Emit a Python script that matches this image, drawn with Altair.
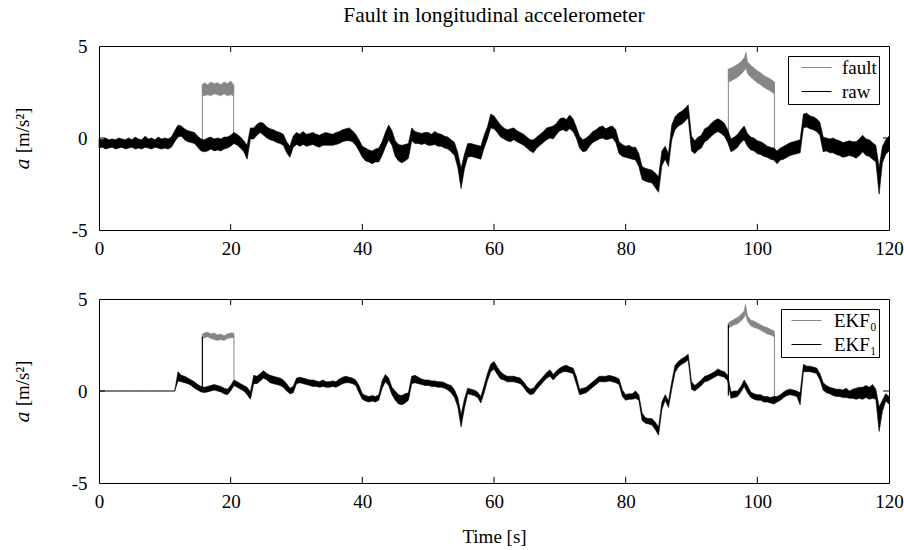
import altair as alt
import numpy as np
import pandas as pd

FONT = "Liberation Serif"
TITLE_FONT = "'Liberation Serif', 'DejaVu Serif', serif"
GRAY = "#868686"

# logged signals are shown on a 0.5 s grid (0 ... 120 s)
t = np.arange(241) * 0.5

# raw longitudinal acceleration: upper / lower edge of the noisy trace [m/s^2]
raw_hi = [
    -0.05, -0.1, 0.0, -0.1, -0.05, -0.1, 0.0, -0.05, -0.1, 0.0,
    -0.1, 0.05, -0.05, -0.1, 0.1, -0.05, 0.0, -0.1, 0.05, -0.05,
    0.0, -0.05, 0.05, 0.4, 0.7, 0.65, 0.5, 0.4, 0.35, 0.3,
    0.1, -0.05, -0.1, 0.0, 0.05, -0.05, 0.0, -0.05, 0.05, 0.05,
    0.15, 0.3, 0.2, 0.05, -0.15, -0.4, 0.55, 0.55, 0.75, 0.85,
    0.8, 0.6, 0.5, 0.45, 0.35, 0.3, 0.2, -0.2, -0.45, 0.1,
    0.3, 0.2, 0.35, 0.2, 0.25, 0.3, 0.2, 0.15, 0.25, 0.3,
    0.25, 0.2, 0.3, 0.35, 0.45, 0.5, 0.55, 0.4, 0.2, -0.1,
    -0.45, -0.55, -0.65, -0.7, -0.6, -0.55, -0.2, 0.3, 0.7, 0.4,
    -0.15, -0.35, -0.4, -0.35, -0.3, 0.55, 0.35, 0.3, 0.25, 0.3,
    0.3, 0.2, 0.35, 0.25, 0.2, 0.1, 0.05, -0.1, -0.25, -0.8,
    -1.65, -0.9, -0.3, -0.3, -0.35, -0.4, -0.45, 0.15, 0.6, 1.3,
    1.2, 0.95, 0.7, 0.55, 0.45, 0.5, 0.55, 0.4, 0.3, 0.2,
    0.05, -0.1, -0.1, 0.05, 0.2, 0.35, 0.55, 0.6, 0.65, 0.8,
    1.05, 1.1, 1.0, 1.25, 1.05, 0.6, 0.1, -0.1, 0.0, 0.15,
    0.35, 0.45, 0.6, 0.65, 0.5, 0.6, 0.65, 0.45, -0.2, -0.35,
    -0.45, -0.4, -0.5, -0.5, -0.85, -1.55, -1.65, -1.7, -1.75, -1.9,
    -2.1, -0.7, -0.45, -0.85, 0.7, 1.15, 1.35, 1.45, 1.6, 1.8,
    0.1, -0.15, 0.05, 0.15, 0.5, 0.6, 0.8, 0.95, 1.05, 0.95,
    0.8, 0.45, -0.05, 0.05, 0.2, 0.45, 0.65, 0.25, 0.05, 0.0,
    -0.15, -0.2, -0.3, -0.45, -0.5, -0.55, -0.7, -0.55, -0.45, -0.35,
    -0.25, -0.2, -0.15, -0.1, 1.3, 1.35, 1.2, 1.15, 1.05, 0.85,
    0.05, 0.0, -0.05, 0.0, -0.1, -0.15, -0.25, -0.2, -0.15, -0.2,
    -0.2, -0.05, 0.15, -0.05, -0.1, -0.25, -0.4, -1.6, -0.45, -0.1,
    0.1,
]
raw_lo = [
    -0.55, -0.5, -0.6, -0.55, -0.5, -0.6, -0.55, -0.5, -0.6, -0.55,
    -0.5, -0.6, -0.55, -0.6, -0.5, -0.55, -0.6, -0.5, -0.55, -0.6,
    -0.55, -0.6, -0.5, -0.2, 0.05, 0.1, -0.1, -0.2, -0.25, -0.3,
    -0.5, -0.7, -0.75, -0.7, -0.6, -0.7, -0.65, -0.7, -0.6, -0.55,
    -0.45, -0.3, -0.4, -0.55, -0.75, -1.15, -0.05, -0.05, 0.15, 0.3,
    0.15, 0.0, -0.1, -0.15, -0.25, -0.3, -0.4, -0.8, -1.05, -0.5,
    -0.35, -0.45, -0.35, -0.45, -0.4, -0.35, -0.45, -0.5, -0.4, -0.4,
    -0.4, -0.4, -0.35, -0.3, -0.2, -0.15, -0.15, -0.2, -0.4, -0.7,
    -1.05, -1.25, -1.3, -1.4, -1.3, -1.3, -0.95, -0.5, -0.1, -0.4,
    -1.0, -1.25, -1.35, -1.25, -1.1, -0.15, -0.3, -0.3, -0.35, -0.3,
    -0.4, -0.4, -0.35, -0.45, -0.45, -0.55, -0.6, -0.75, -0.95, -1.6,
    -2.75, -1.7, -1.05, -1.0, -1.05, -1.1, -1.15, -0.55, -0.05, 0.55,
    0.5, 0.3, 0.05, -0.05, -0.15, -0.2, -0.1, -0.2, -0.3, -0.4,
    -0.55, -0.7, -0.8, -0.55, -0.4, -0.25, -0.1, 0.0, -0.05, 0.2,
    0.4, 0.45, 0.35, 0.5, 0.35, 0.0, -0.55, -0.75, -0.7, -0.45,
    -0.25, -0.15, -0.05, 0.0, -0.1, -0.05, 0.0, -0.25, -0.85, -1.0,
    -1.05, -1.1, -1.15, -1.2, -1.55, -2.25, -2.35, -2.4, -2.45, -2.7,
    -2.95, -1.5, -1.15, -1.55, -0.1, 0.45, 0.65, 0.75, 0.9, 1.1,
    -0.7, -0.85, -0.65, -0.55, -0.2, -0.1, 0.1, 0.25, 0.35, 0.25,
    0.1, -0.25, -0.75, -0.65, -0.5, -0.25, -0.1, -0.45, -0.65, -0.7,
    -0.85, -0.9, -1.0, -1.05, -1.15, -1.2, -1.4, -1.2, -1.15, -1.05,
    -0.95, -0.9, -0.85, -0.8, 0.55, 0.6, 0.5, 0.45, 0.35, 0.15,
    -0.75, -0.7, -0.8, -0.8, -0.9, -0.95, -1.05, -1.0, -0.95, -1.0,
    -1.1, -0.95, -0.75, -0.95, -1.0, -1.15, -1.3, -3.05, -1.35, -0.9,
    -0.7,
]

# faulty sensor: offset windows (upper / lower edge of the trace)
fault_t1 = [15.7, 16, 16.5, 17, 17.5, 18, 18.5, 19, 19.5, 20, 20.45]
fault_hi1 = [2.9, 3.0, 2.9, 3.05, 2.95, 3.0, 2.9, 3.05, 2.95, 3.1, 2.9]
fault_lo1 = [2.3, 2.3, 2.35, 2.3, 2.4, 2.35, 2.3, 2.4, 2.3, 2.35, 2.3]
fault_t2 = [95.6, 96, 96.5, 97, 97.5, 98, 98.3, 98.5, 99, 99.5, 100, 100.5, 101, 101.5, 102, 102.6]
fault_hi2 = [3.75, 3.8, 3.9, 4.0, 4.15, 4.35, 4.65, 4.15, 3.95, 3.8, 3.65, 3.55, 3.4, 3.3, 3.2, 3.05]
fault_lo2 = [3.05, 3.1, 3.2, 3.3, 3.45, 3.65, 3.8, 3.5, 3.3, 3.15, 3.0, 2.9, 2.75, 2.65, 2.55, 2.4]
# switching edges of the faulty signal
fault_edge_t = [15.7, 20.45, 95.6, 102.6]
fault_edge_lo = [-0.45, -0.05, 0.2, -1.0]
fault_edge_hi = [2.9, 2.9, 3.75, 3.05]

# EKF_1 estimate: upper / lower edge of the trace
ekf1_hi = [
    0.0, 0.0, 0.0, 0.0, 0.0, 0.0, 0.0, 0.0, 0.0, 0.0,
    0.0, 0.0, 0.0, 0.0, 0.0, 0.0, 0.0, 0.0, 0.0, 0.0,
    0.0, 0.0, 0.0, 0.0, 1.05, 0.85, 0.8, 0.7, 0.6, 0.5,
    0.35, 0.25, 0.2, 0.25, 0.3, 0.35, 0.3, 0.25, 0.15, 0.1,
    0.3, 0.6, 0.5, 0.4, 0.3, 0.2, -0.05, 0.85, 0.8, 0.95,
    1.1, 0.95, 0.85, 0.8, 0.75, 0.7, 0.6, 0.4, 0.15, 0.25,
    0.7, 0.75, 0.7, 0.65, 0.6, 0.6, 0.55, 0.5, 0.6, 0.5,
    0.5, 0.55, 0.5, 0.65, 0.75, 0.8, 0.75, 0.7, 0.6, 0.3,
    -0.15, -0.25, -0.3, -0.25, -0.3, -0.2, 0.55, 0.9, 0.7, 0.2,
    0.0, -0.2, -0.25, -0.15, -0.1, 0.8, 0.85, 0.75, 0.65, 0.6,
    0.6, 0.55, 0.55, 0.5, 0.5, 0.45, 0.35, 0.3, 0.05, -0.35,
    -1.3, -0.45, 0.15, 0.1, 0.05, -0.05, -0.3, 0.3, 0.95, 1.45,
    1.6, 1.3, 1.05, 0.9, 0.8, 0.8, 0.8, 0.75, 0.7, 0.5,
    0.25, 0.1, 0.15, 0.4, 0.6, 0.8, 1.0, 1.15, 0.9, 1.1,
    1.25, 1.35, 1.4, 1.3, 1.25, 0.8, 0.1, 0.15, 0.2, 0.35,
    0.5, 0.65, 0.8, 0.8, 0.8, 0.85, 0.8, 0.75, 0.65, 0.05,
    -0.2, -0.15, -0.15, 0.0, -0.2, -1.2, -1.45, -1.5, -1.5, -1.7,
    -1.95, -0.6, -0.2, -0.55, 0.5, 1.4, 1.6, 1.75, 1.85, 2.0,
    0.5, 0.3, 0.45, 0.6, 0.8, 0.85, 0.95, 1.05, 1.2, 1.1,
    1.05, 0.85, -0.05, 0.0, 0.0, 0.25, 0.6, 0.3, -0.05, -0.15,
    -0.2, -0.2, -0.3, -0.3, -0.35, -0.3, -0.3, -0.2, -0.05, 0.05,
    0.1, 0.05, 0.0, -0.1, 1.45, 1.35, 1.35, 1.3, 1.25, 0.95,
    0.45, 0.3, 0.2, 0.15, 0.1, 0.1, 0.05, 0.15, 0.0, 0.1,
    0.15, 0.2, 0.2, 0.3, 0.2, 0.35, 0.1, -0.85, -0.5, -0.15,
    -0.3,
]
ekf1_lo = [
    0.0, 0.0, 0.0, 0.0, 0.0, 0.0, 0.0, 0.0, 0.0, 0.0,
    0.0, 0.0, 0.0, 0.0, 0.0, 0.0, 0.0, 0.0, 0.0, 0.0,
    0.0, 0.0, 0.0, 0.0, 0.55, 0.5, 0.45, 0.4, 0.3, 0.15,
    0.05, -0.05, -0.08, -0.05, 0.0, 0.05, 0.0, -0.05, -0.15, -0.2,
    0.0, 0.3, 0.2, 0.1, 0.0, -0.2, -0.45, 0.4, 0.4, 0.55,
    0.7, 0.6, 0.45, 0.4, 0.35, 0.3, 0.2, 0.0, -0.15, -0.1,
    0.4, 0.45, 0.4, 0.35, 0.3, 0.25, 0.25, 0.2, 0.25, 0.2,
    0.2, 0.25, 0.2, 0.3, 0.4, 0.45, 0.45, 0.4, 0.3, -0.1,
    -0.45, -0.55, -0.6, -0.55, -0.6, -0.5, 0.15, 0.5, 0.3, -0.2,
    -0.5, -0.7, -0.75, -0.65, -0.5, 0.4, 0.45, 0.4, 0.35, 0.3,
    0.3, 0.25, 0.25, 0.2, 0.2, 0.15, 0.05, -0.1, -0.35, -0.85,
    -1.95, -0.95, -0.15, -0.2, -0.25, -0.35, -0.65, -0.1, 0.55, 1.05,
    1.2, 0.9, 0.65, 0.6, 0.5, 0.5, 0.5, 0.45, 0.4, 0.2,
    -0.05, -0.2, -0.15, 0.1, 0.3, 0.5, 0.7, 0.8, 0.6, 0.8,
    0.95, 1.05, 1.05, 1.0, 0.95, 0.4, -0.2, -0.15, -0.1, 0.05,
    0.2, 0.35, 0.5, 0.5, 0.5, 0.55, 0.5, 0.45, 0.35, -0.3,
    -0.5, -0.45, -0.45, -0.4, -0.5, -1.6, -1.75, -1.8, -1.85, -2.1,
    -2.4, -1.0, -0.5, -0.9, 0.1, 1.0, 1.3, 1.45, 1.55, 1.7,
    0.1, 0.0, 0.15, 0.3, 0.5, 0.55, 0.65, 0.75, 0.85, 0.8,
    0.75, 0.55, -0.4, -0.35, -0.3, -0.05, 0.25, -0.1, -0.35, -0.45,
    -0.5, -0.5, -0.6, -0.6, -0.65, -0.7, -0.6, -0.5, -0.35, -0.25,
    -0.2, -0.25, -0.3, -0.75, 1.05, 1.05, 1.05, 1.0, 0.95, 0.6,
    0.05, -0.1, -0.15, -0.25, -0.3, -0.3, -0.35, -0.35, -0.4, -0.4,
    -0.45, -0.4, -0.45, -0.35, -0.45, -0.4, -0.45, -2.2, -1.1, -0.55,
    -0.7,
]
# one-sample transients of EKF_1 when the fault switches on
ekf1_spike_t = [15.7, 95.6]
ekf1_spike_lo = [0.05, -0.25]
ekf1_spike_hi = [2.95, 3.6]

# EKF_0 estimate during the fault windows
ekf0_t1 = [15.7, 16, 16.5, 17, 17.5, 18, 18.5, 19, 19.5, 20, 20.5]
ekf0_hi1 = [3.1, 3.15, 3.2, 3.1, 3.15, 3.05, 3.1, 3.0, 3.1, 3.15, 3.15]
ekf0_lo1 = [2.85, 2.9, 2.95, 2.85, 2.8, 2.75, 2.8, 2.75, 2.85, 2.9, 2.9]
ekf0_t2 = [95.6, 96, 96.5, 97, 97.5, 98, 98.2, 98.5, 99, 99.5, 100, 100.5, 101, 101.5, 102, 102.6]
ekf0_hi2 = [3.7, 3.8, 3.9, 4.0, 4.15, 4.35, 4.7, 4.1, 3.85, 3.8, 3.7, 3.6, 3.5, 3.45, 3.35, 3.25]
ekf0_lo2 = [3.4, 3.5, 3.6, 3.65, 3.8, 4.0, 4.2, 3.8, 3.55, 3.45, 3.4, 3.3, 3.2, 3.1, 3.05, 2.95]
ekf0_edge_t = [20.5, 102.6]
ekf0_edge_lo = [0.45, -0.45]
ekf0_edge_hi = [3.0, 3.1]

X_TICKS = [0, 20, 40, 60, 80, 100, 120]
Y_TICKS = [-5, 0, 5]
INNER_X_TICKS = [20, 40, 60, 80, 100]
TICK_Y = 0.33   # inward tick length in y units
TICK_X = 0.9    # inward tick length in x units

X_SCALE = alt.Scale(domain=[0, 120], nice=False, zero=False)
Y_SCALE = alt.Scale(domain=[-5, 5], nice=False, zero=False)

AXIS_TEXT = dict(labelFont=FONT, labelFontSize=19, labelColor="black",
                 titleFont=TITLE_FONT, titleFontSize=19, titleFontWeight="normal",
                 titleColor="black", domain=False, ticks=False, grid=False)


def band(times, lo, hi, name, win=0):
    return pd.DataFrame({"t": times, "lo": lo, "hi": hi, "series": name, "win": win})


def x_enc(title):
    return alt.X(
        "t:Q", scale=X_SCALE,
        axis=alt.Axis(values=X_TICKS, title=title, labelFlush=False,
                      labelPadding=9, titlePadding=16, **AXIS_TEXT),
    )


def y_enc():
    return alt.Y(
        "lo:Q", scale=Y_SCALE,
        axis=alt.Axis(values=Y_TICKS, title="𝑎 [m/s²]", labelPadding=12,
                      titlePadding=39, labelExpr="'' + datum.value", **AXIS_TEXT),
    )


def series_legend(sym_offset, label_offset):
    # a horizontal line key, 30 px long, on a 15 px layout cell
    return alt.Legend(title=None, orient="top-right", offset=10,
                      strokeColor="black", fillColor="white", padding=2, cornerRadius=0,
                      symbolType="M-2,0H2", symbolSize=225, symbolStrokeWidth=1,
                      symbolOffset=sym_offset, labelOffset=label_offset, rowPadding=4,
                      labelFont=FONT, labelFontSize=19, labelColor="black")


def panel(gray_df, black_df, edge_df, names, xtitle, legend_offsets, spike_df=None, title=None):
    scale = alt.Scale(domain=names, range=[GRAY, "black"])
    fill = alt.Fill("series:N", scale=scale, legend=series_legend(*legend_offsets))
    stroke = alt.Stroke("series:N", scale=scale, legend=series_legend(*legend_offsets))
    xe = x_enc(xtitle)
    layers = [
        alt.Chart(gray_df).mark_area(strokeWidth=0.6).encode(
            x=xe, y=y_enc(), y2="hi:Q", fill=fill, stroke=stroke, detail="win:N"),
        alt.Chart(edge_df).mark_rule(color=GRAY, strokeWidth=1).encode(
            x=xe, y=y_enc(), y2="hi:Q"),
        alt.Chart(black_df).mark_area(strokeWidth=0.6).encode(
            x=xe, y=y_enc(), y2="hi:Q", fill=fill, stroke=stroke),
    ]
    if spike_df is not None:
        layers.append(alt.Chart(spike_df).mark_rule(color="black", strokeWidth=1.2).encode(
            x=xe, y=y_enc(), y2="hi:Q"))
    # inward ticks on the top and bottom edges, and at y = 0 on both sides
    ticks = pd.DataFrame({
        "t": INNER_X_TICKS * 2,
        "lo": [5] * len(INNER_X_TICKS) + [-5] * len(INNER_X_TICKS),
        "hi": [5 - TICK_Y] * len(INNER_X_TICKS) + [-5 + TICK_Y] * len(INNER_X_TICKS),
    })
    yticks = pd.DataFrame({"t": [0, 120 - TICK_X], "t2": [TICK_X, 120], "lo": [0, 0]})
    layers.append(alt.Chart(ticks).mark_rule(color="black", strokeWidth=1).encode(
        x=xe, y=y_enc(), y2="hi:Q"))
    layers.append(alt.Chart(yticks).mark_rule(color="black", strokeWidth=1).encode(
        x=xe, x2="t2:Q", y=y_enc()))
    props = dict(width=790, height=184)
    if title:
        props["title"] = alt.TitleParams(title, font=FONT, fontSize=21.5, fontWeight="normal",
                                         color="black", anchor="middle", offset=11)
    return alt.layer(*layers).properties(**props)


fault_df = pd.concat([band(fault_t1, fault_lo1, fault_hi1, "fault", 1),
                      band(fault_t2, fault_lo2, fault_hi2, "fault", 2)])
raw_df = band(t, raw_lo, raw_hi, "raw")
fault_edges = pd.DataFrame({"t": fault_edge_t, "lo": fault_edge_lo, "hi": fault_edge_hi})

ekf0_df = pd.concat([band(ekf0_t1, ekf0_lo1, ekf0_hi1, "EKF₀", 1),
                     band(ekf0_t2, ekf0_lo2, ekf0_hi2, "EKF₀", 2)])
ekf1_df = band(t, ekf1_lo, ekf1_hi, "EKF₁")
ekf0_edges = pd.DataFrame({"t": ekf0_edge_t, "lo": ekf0_edge_lo, "hi": ekf0_edge_hi})
ekf1_spikes = pd.DataFrame({"t": ekf1_spike_t, "lo": ekf1_spike_lo, "hi": ekf1_spike_hi})

top = panel(fault_df, raw_df, fault_edges, ["fault", "raw"], None, (17, 16),
            title="Fault in longitudinal accelerometer")
bottom = panel(ekf0_df, ekf1_df, ekf0_edges, ["EKF₀", "EKF₁"], "Time [s]", (14, 18),
               spike_df=ekf1_spikes)

chart = (
    alt.vconcat(top, bottom, spacing=69, bounds="flush")
    .resolve_scale(fill="independent", stroke="independent")
    .resolve_legend(stroke="independent", fill="independent")
    .properties(padding={"left": 12, "top": 4, "right": 0, "bottom": 2}, background="white")
    .configure_view(stroke="black", strokeWidth=1)
)

chart.save("out.html", embed_options={"renderer": "svg", "actions": False})
